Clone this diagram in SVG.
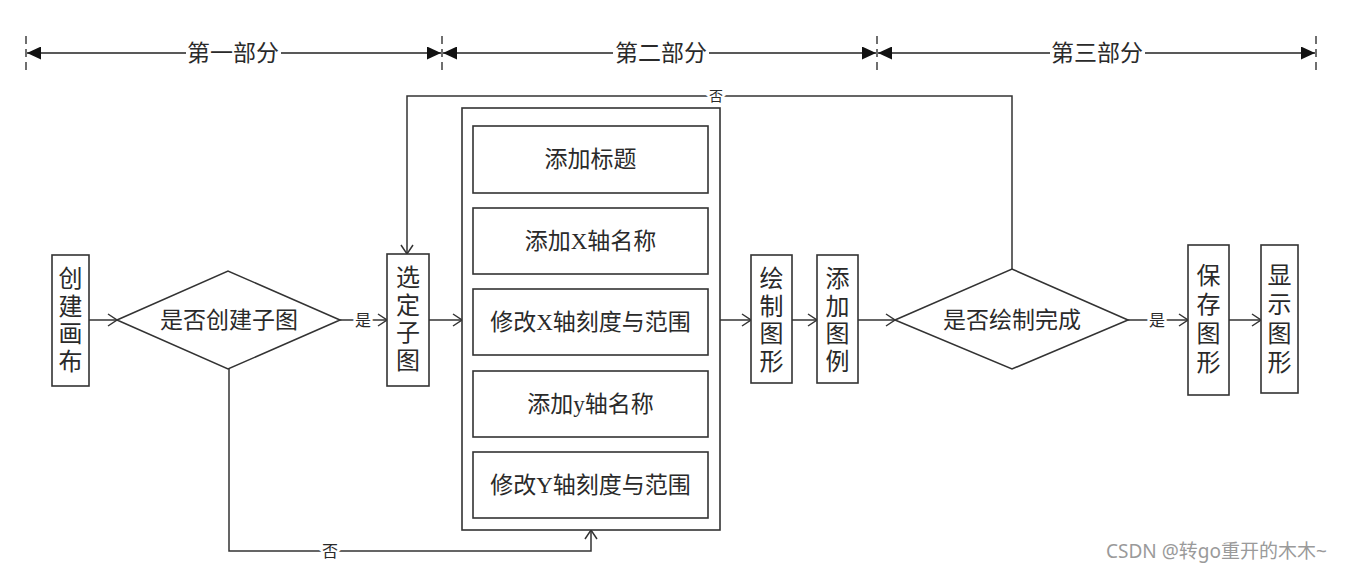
<svg xmlns="http://www.w3.org/2000/svg" width="1345" height="574" viewBox="0 0 1345 574">
  <defs>
    <style>
      .box { fill: #fff; stroke: #333; stroke-width: 1.6; }
      .line { fill: none; stroke: #333; stroke-width: 1.5; }
      .dim { fill: none; stroke: #222; stroke-width: 1.4; }
      .tick { fill: none; stroke: #333; stroke-width: 1.4; stroke-dasharray: 8 5; }
      .txt { font-family: "Liberation Serif", "Noto Sans CJK SC", serif; fill: #2a2a2a; text-anchor: middle; dominant-baseline: central; }
      .big { font-size: 23px; }
      .vert { font-size: 24px; }
      .lbl { font-size: 16px; stroke: #fff; stroke-width: 5; paint-order: stroke; }
      .wm { font-family: "Noto Sans", "Noto Sans CJK SC", sans-serif; font-size: 19px; fill: #9a9a9a; }
    </style>
    <marker id="open" markerUnits="userSpaceOnUse" markerWidth="12" markerHeight="14" refX="10" refY="7" orient="auto">
      <path d="M1,1 L10,7 L1,13" fill="none" stroke="#333" stroke-width="1.5"/>
    </marker>
    <marker id="solid" markerUnits="userSpaceOnUse" markerWidth="15" markerHeight="13" refX="14" refY="6.5" orient="auto-start-reverse">
      <path d="M0,0 L14,6.5 L0,13 Z" fill="#111"/>
    </marker>
  </defs>

  <!-- section dimension bars -->
  <g id="sections">
    <line class="tick" x1="26" y1="36" x2="26" y2="74"/>
    <line class="tick" x1="442" y1="36" x2="442" y2="74"/>
    <line class="tick" x1="877" y1="36" x2="877" y2="74"/>
    <line class="tick" x1="1316" y1="36" x2="1316" y2="74"/>
    <line class="dim" x1="27" y1="53" x2="186" y2="53" marker-start="url(#solid)"/>
    <line class="dim" x1="281" y1="53" x2="441" y2="53" marker-end="url(#solid)"/>
    <text class="txt big" x="233" y="53">第一部分</text>
    <line class="dim" x1="443" y1="53" x2="613" y2="53" marker-start="url(#solid)"/>
    <line class="dim" x1="709" y1="53" x2="876" y2="53" marker-end="url(#solid)"/>
    <text class="txt big" x="661" y="53">第二部分</text>
    <line class="dim" x1="878" y1="53" x2="1050" y2="53" marker-start="url(#solid)"/>
    <line class="dim" x1="1145" y1="53" x2="1315" y2="53" marker-end="url(#solid)"/>
    <text class="txt big" x="1097" y="53">第三部分</text>
  </g>

  <!-- connectors -->
  <g id="connectors">
    <line class="line" x1="89" y1="320" x2="117" y2="320" marker-end="url(#open)"/>
    <line class="line" x1="340" y1="320" x2="387" y2="320" marker-end="url(#open)"/>
    <line class="line" x1="429" y1="320" x2="462" y2="320" marker-end="url(#open)"/>
    <line class="line" x1="720" y1="320" x2="751" y2="320" marker-end="url(#open)"/>
    <line class="line" x1="792" y1="320" x2="817" y2="320" marker-end="url(#open)"/>
    <line class="line" x1="858" y1="320" x2="895" y2="320" marker-end="url(#open)"/>
    <line class="line" x1="1128" y1="320" x2="1188" y2="320" marker-end="url(#open)"/>
    <line class="line" x1="1229" y1="320" x2="1261" y2="320" marker-end="url(#open)"/>
    <polyline class="line" points="1012,269 1012,96 407,96 407,254" marker-end="url(#open)"/>
    <polyline class="line" points="229,369 229,551 591,551 591,530" marker-end="url(#open)"/>
    <text class="txt lbl" x="363" y="320">是</text>
    <text class="txt lbl" x="1157" y="320">是</text>
    <text class="txt lbl" x="716" y="96" style="font-size:14px">否</text>
    <text class="txt lbl" x="330" y="551">否</text>
  </g>

  <g id="create-canvas">
    <rect class="box" x="52" y="255" width="37" height="131"/>
    <text class="txt vert" x="70.5" y="279">创</text>
    <text class="txt vert" x="70.5" y="306.5">建</text>
    <text class="txt vert" x="70.5" y="334">画</text>
    <text class="txt vert" x="70.5" y="361.5">布</text>
  </g>

  <g id="decide-subplot">
    <polygon class="box" points="117,320 228,271 340,320 228,369"/>
    <text class="txt big" x="229" y="320">是否创建子图</text>
  </g>

  <g id="select-subplot">
    <rect class="box" x="387" y="254" width="42" height="132"/>
    <text class="txt vert" x="408" y="278">选</text>
    <text class="txt vert" x="408" y="305.5">定</text>
    <text class="txt vert" x="408" y="333">子</text>
    <text class="txt vert" x="408" y="360.5">图</text>
  </g>

  <g id="axes-settings">
    <rect class="box" x="462" y="108" width="258" height="422"/>
    <rect class="box" x="473" y="126" width="235" height="67"/>
    <text class="txt big" x="590.5" y="159.5">添加标题</text>
    <rect class="box" x="473" y="208" width="235" height="66"/>
    <text class="txt big" x="590.5" y="241">添加X轴名称</text>
    <rect class="box" x="473" y="289" width="235" height="66"/>
    <text class="txt big" x="590.5" y="322">修改X轴刻度与范围</text>
    <rect class="box" x="473" y="371" width="235" height="66"/>
    <text class="txt big" x="590.5" y="404">添加y轴名称</text>
    <rect class="box" x="473" y="452" width="235" height="66"/>
    <text class="txt big" x="590.5" y="485">修改Y轴刻度与范围</text>
  </g>

  <g id="draw-plot">
    <rect class="box" x="751" y="255" width="41" height="128"/>
    <text class="txt vert" x="771.5" y="279">绘</text>
    <text class="txt vert" x="771.5" y="306.5">制</text>
    <text class="txt vert" x="771.5" y="334">图</text>
    <text class="txt vert" x="771.5" y="361.5">形</text>
  </g>

  <g id="add-legend">
    <rect class="box" x="817" y="255" width="41" height="128"/>
    <text class="txt vert" x="837.5" y="279">添</text>
    <text class="txt vert" x="837.5" y="306.5">加</text>
    <text class="txt vert" x="837.5" y="334">图</text>
    <text class="txt vert" x="837.5" y="361.5">例</text>
  </g>

  <g id="decide-done">
    <polygon class="box" points="895,320 1012,269 1128,320 1012,369"/>
    <text class="txt big" x="1012" y="320">是否绘制完成</text>
  </g>

  <g id="save-figure">
    <rect class="box" x="1188" y="245" width="41" height="150"/>
    <text class="txt vert" x="1208.5" y="276">保</text>
    <text class="txt vert" x="1208.5" y="305">存</text>
    <text class="txt vert" x="1208.5" y="334">图</text>
    <text class="txt vert" x="1208.5" y="363">形</text>
  </g>

  <g id="show-figure">
    <rect class="box" x="1261" y="245" width="37" height="148"/>
    <text class="txt vert" x="1279.5" y="276">显</text>
    <text class="txt vert" x="1279.5" y="305">示</text>
    <text class="txt vert" x="1279.5" y="334">图</text>
    <text class="txt vert" x="1279.5" y="363">形</text>
  </g>

  <text class="wm" x="1106" y="558">CSDN @转go重开的木木~</text>
</svg>
